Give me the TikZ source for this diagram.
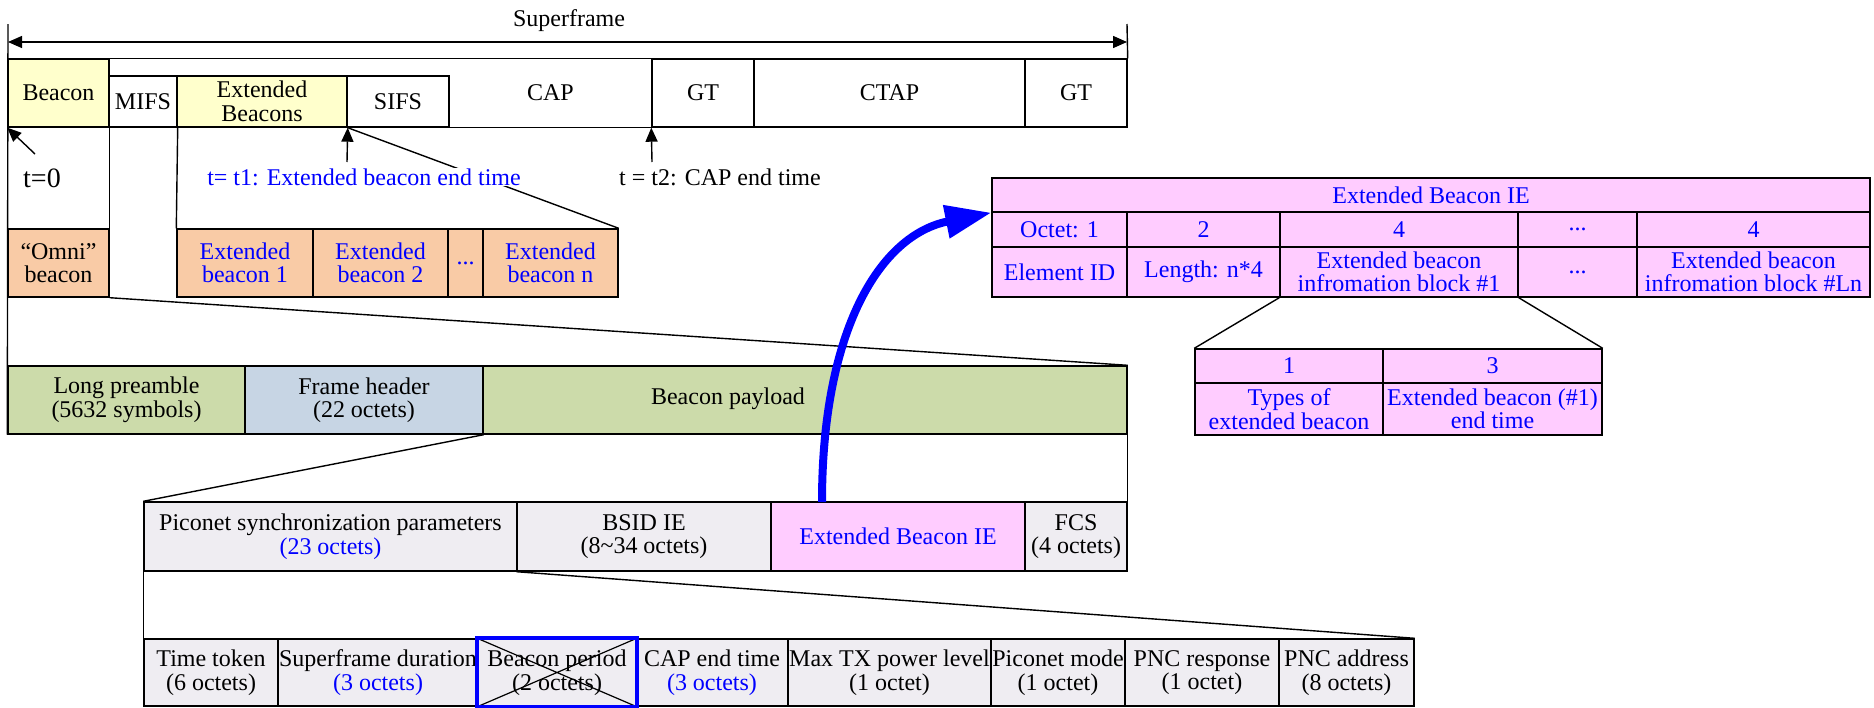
\documentclass[tikz,border=0pt]{standalone}
\usepackage{fontspec}
\setmainfont{Liberation Serif}
\usetikzlibrary{arrows.meta}
\definecolor{cyel}{HTML}{FFFFCC}
\definecolor{cpeach}{HTML}{F9CBA6}
\definecolor{cgreen}{HTML}{CCDBAA}
\definecolor{cgblue}{HTML}{C7D5E4}
\definecolor{clav}{HTML}{EFEDF2}
\definecolor{cpink}{HTML}{FFCCFF}
\definecolor{cblue}{HTML}{0000FF}
\newcommand\fs{\fontsize{24pt}{23.5pt}\selectfont}
\newcommand\mkcell[7]{\node[cellbox,#6,minimum width={(#4)-(#2)},minimum height={(#5)-(#3)}] (#1) at ({((#2)+(#4))/2},{((#3)+(#5))/2}) {#7};}
\begin{document}
\begin{tikzpicture}[x=1pt,y=-1pt,line width=1.4pt,
  cellbox/.style={draw=black,inner sep=0pt,align=center,font=\fs},
  yel/.style={fill=cyel},
  peach/.style={fill=cpeach},
  green/.style={fill=cgreen},
  gblue/.style={fill=cgblue},
  lav/.style={fill=clav},
  pink/.style={fill=cpink,text=cblue},
  btxt/.style={text=cblue},
  tip/.style={-{Triangle[length=14pt,width=12pt]}},
  lbl/.style={inner sep=0.5pt,font=\fs},
  bigarrow/.style={draw=cblue,line width=8pt,-{Triangle[length=46pt,width=32pt]}}
]
\fill[white] (0,0) rectangle (1874,707);
\useasboundingbox (0,0) rectangle (1874,707);

% ---- superframe arrow
\coordinate (sfl) at (8,42);
\coordinate (sfr) at (1127,42);
\draw[{Triangle[length=14pt,width=12pt]}-{Triangle[length=14pt,width=12pt]}] (sfl) -- (sfr);
\node[lbl] (sflabel) at (569,21) {Superframe};

% ---- row 1
\mkcell{beacon}{8}{59}{109}{127}{yel}{Beacon}
\mkcell{mifs}{109}{76}{177}{127}{}{MIFS}
\mkcell{extb}{177}{76}{347}{127}{yel}{Extended\\Beacons}
\mkcell{sifs}{347}{76}{449}{127}{}{SIFS}
\mkcell{cap}{449}{59}{652}{127}{draw=none}{CAP}
\mkcell{gta}{652}{59}{754}{127}{}{GT}
\mkcell{ctap}{754}{59}{1025}{127}{}{CTAP}
\mkcell{gtb}{1025}{59}{1127}{127}{}{GT}
\draw (beacon.north east) -- (gtb.north west);
\draw (sifs.south east) -- (gta.south west);
\coordinate (ltop) at (8,24);
\coordinate (rtop) at (1127,24);
\draw (rtop) -- (gtb.north east);

% ---- row 2
\mkcell{omni}{8}{229}{109}{297}{peach}{“Omni”\\beacon}
\mkcell{ebone}{177}{229}{313}{297}{peach,btxt}{Extended\\beacon 1}
\mkcell{ebtwo}{313}{229}{448}{297}{peach,btxt}{Extended\\beacon 2}
\mkcell{ebdots}{448}{229}{483}{297}{peach,btxt}{...}
\mkcell{ebn}{483}{229}{618}{297}{peach,btxt}{Extended\\beacon n}
\draw (beacon.south east) -- (omni.north east);
\draw (mifs.south east) -- (ebone.north west);

% ---- row 3
\mkcell{pre}{8}{366}{245}{434}{green}{Long preamble\\(5632 symbols)}
\mkcell{fh}{245}{366}{483}{434}{gblue}{Frame header\\(22 octets)}
\mkcell{pay}{483}{366}{1127}{434}{green}{}
\node[lbl] (paytext) at (728,399) {Beacon payload};
\draw (ltop) -- (pre.south west);
\draw (omni.south east) -- (pay.north east);

% ---- row 4
\mkcell{pico}{144}{502}{517}{571}{lav}{Piconet synchronization parameters\\{\color{cblue}(23 octets)}}
\mkcell{bsid}{517}{502}{771}{571}{lav}{BSID IE\\(8{\char"7E}34 octets)}
\mkcell{ebie}{771}{502}{1025}{571}{pink}{Extended Beacon IE}
\mkcell{fcs}{1025}{502}{1127}{571}{lav}{FCS\\(4 octets)}
\draw (fh.south east) -- (pico.north west);
\draw (pay.south east) -- (fcs.north east);

% ---- row 5
\mkcell{tt}{144}{639}{278}{706}{lav}{Time token\\(6 octets)}
\mkcell{sfd}{278}{639}{478}{706}{lav}{\makebox[0pt]{Superframe duration}\\{\color{cblue}(3 octets)}}
\mkcell{bp}{478}{639}{636}{706}{lav}{Beacon period\\(2 octets)}
\mkcell{cet}{636}{639}{788}{706}{lav}{CAP end time\\{\color{cblue}(3 octets)}}
\mkcell{mtx}{788}{639}{991}{706}{lav}{\makebox[0pt]{Max TX power level}\\(1 octet)}
\mkcell{pm}{991}{639}{1125}{706}{lav}{\makebox[0pt]{Piconet mode}\\(1 octet)}
\mkcell{pncr}{1125}{639}{1279}{706}{lav}{PNC response\\(1 octet)}
\mkcell{pnca}{1279}{639}{1414}{706}{lav}{PNC address\\(8 octets)}
\draw (pico.south west) -- (tt.north west);
\draw (bsid.south west) -- (pnca.north east);
\draw[line width=1.2pt] (bp.north west) -- (bp.south east) (bp.south west) -- (bp.north east);
\draw[draw=cblue,line width=4pt] (bp.north west) rectangle (bp.south east);

% ---- time markers
\coordinate (tzero) at (35,154);
\draw[tip] (tzero) -- (beacon.south west);
\node[inner sep=0pt,font=\fontsize{28pt}{28pt}\selectfont] (tzlabel) at (42,178) {t=0};

\draw (extb.south east) -- (ebn.north east);
\node[lbl,fill=white,text=cblue] (tonelabel) at (364,177) {t= t1: Extended beacon end time};
\coordinate (tone) at (347,162);
\draw[tip] (tone) -- (extb.south east);

\coordinate (ttwo) at (652,162);
\draw[tip] (ttwo) -- (gta.south west);
\node[lbl] (ttwolabel) at (720,177) {t = t2: CAP end time};

% ---- Extended Beacon IE table
\mkcell{ebt}{992}{178}{1870}{212}{pink}{Extended Beacon IE}
\mkcell{oa}{992}{212}{1127}{247}{pink}{Octet: 1}
\mkcell{ob}{1127}{212}{1280}{247}{pink}{2}
\mkcell{oc}{1280}{212}{1518}{247}{pink}{4}
\mkcell{od}{1518}{212}{1637}{247}{pink}{...}
\mkcell{oe}{1637}{212}{1870}{247}{pink}{4}
\mkcell{ra}{992}{247}{1127}{297}{pink}{Element ID}
\mkcell{rb}{1127}{247}{1280}{297}{pink}{Length: n*4}
\mkcell{rc}{1280}{247}{1518}{297}{pink}{Extended beacon\\infromation block \#1}
\mkcell{rd}{1518}{247}{1637}{297}{pink}{...}
\mkcell{re}{1637}{247}{1870}{297}{pink}{Extended beacon\\infromation block \#Ln}

\mkcell{sa}{1195}{349}{1383}{383}{pink}{1}
\mkcell{sb}{1383}{349}{1602}{383}{pink}{3}
\mkcell{sc}{1195}{383}{1383}{435}{pink}{Types of\\extended beacon}
\mkcell{sd}{1383}{383}{1602}{435}{pink}{Extended beacon (\#1)\\end time}
\draw (rc.south west) -- (sa.north west);
\draw (rc.south east) -- (sb.north east);

% ---- blue curved arrow
\coordinate (arrstart) at (822,502);
\draw[bigarrow] (arrstart) .. controls (822,330) and (880,235) .. (ebt.south west);
\end{tikzpicture}
\end{document}
